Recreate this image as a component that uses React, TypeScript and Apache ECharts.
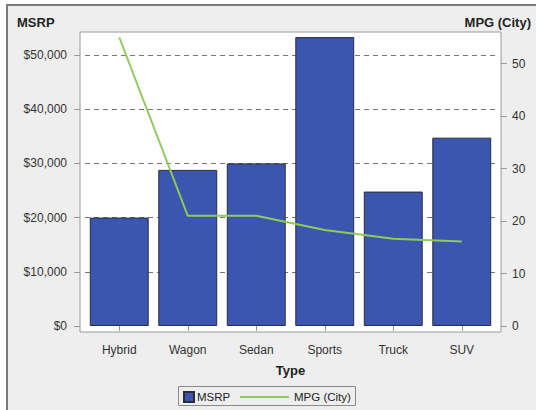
import React, { useEffect, useRef } from "react";
import * as echarts from "echarts";

const categories = ["Hybrid", "Wagon", "Sedan", "Sports", "Truck", "SUV"];
const msrpValues = [20000, 28800, 30000, 53300, 24800, 34750];
const mpgValues = [55, 21, 21, 18.3, 16.6, 16.1];
const msrpTicks = [0, 10000, 20000, 30000, 40000, 50000];
const mpgTicks = [0, 10, 20, 30, 40, 50];

const FONT = "'Liberation Sans', Arial, sans-serif";

export default function App() {
  const ref = useRef<HTMLDivElement>(null);
  useEffect(() => {
    if (!ref.current) return;
    const chart = echarts.init(ref.current, undefined, { renderer: "svg" });
    const fmtMoney = (v: number) => "$" + Math.round(v).toLocaleString("en-US");
    chart.setOption({
      animation: false,
      backgroundColor: "#ffffff",
      textStyle: { fontFamily: FONT },
      grid: { left: 85, right: 40, top: 32, bottom: 84, containLabel: false },
      graphic: [
        {
          type: "rect",
          z: -100,
          shape: { x: 7, y: 5, width: 620, height: 500 },
          style: { fill: "#eeeeee", stroke: "#7a7a7a", lineWidth: 2 },
        },
        {
          type: "rect",
          z: -90,
          shape: { x: 80, y: 32, width: 421, height: 300 },
          style: { fill: "#ffffff", stroke: "#9a9a9a", lineWidth: 1 },
        },
        {
          type: "rect",
          z: -90,
          shape: { x: 178.5, y: 386.5, width: 177, height: 19 },
          style: { fill: "#eeeeee", stroke: "#8a8a8a", lineWidth: 1 },
        },
        {
          type: "text",
          x: 17,
          y: 22,
          style: {
            text: "MSRP",
            font: "bold 13px " + FONT,
            fill: "#222222",
            textAlign: "left",
            textVerticalAlign: "middle",
          },
        },
        {
          type: "text",
          x: 531,
          y: 22,
          style: {
            text: "MPG (City)",
            font: "bold 13px " + FONT,
            fill: "#222222",
            textAlign: "right",
            textVerticalAlign: "middle",
          },
        },
      ],
      legend: [
        {
          data: [{ name: "MSRP", icon: "rect" }],
          left: 183,
          top: 391,
          padding: 0,
          itemWidth: 10,
          itemHeight: 10,
          itemGap: 0,
          textStyle: { fontSize: 11.5, color: "#222", fontFamily: FONT, padding: [0, 0, 0, -2] },
        },
        {
          data: [{ name: "MPG (City)", icon: "path://M0,0L49,0L49,2L0,2Z" }],
          left: 240,
          top: 391,
          padding: 0,
          itemWidth: 49,
          itemHeight: 10,
          textStyle: { fontSize: 11.5, color: "#222", fontFamily: FONT },
        },
      ],
      xAxis: {
        type: "category",
        data: categories,
        offset: 6,
        axisLine: { show: false },
        axisTick: { show: true, alignWithLabel: true, length: 5, lineStyle: { color: "#999" } },
        axisLabel: { fontSize: 12, color: "#333", margin: 12, fontFamily: FONT },
        name: "Type",
        nameLocation: "middle",
        nameGap: 32,
        nameTextStyle: { fontSize: 13, fontWeight: "bold", color: "#222", fontFamily: FONT },
      },
      yAxis: [
        {
          type: "value",
          min: 0,
          max: 54240,
          position: "left",
          offset: 5,
          axisLine: { show: false },
          axisTick: { show: true, length: 6, lineStyle: { color: "#999" }, customValues: msrpTicks },
          axisLabel: {
            fontSize: 12,
            color: "#333",
            margin: 13,
            fontFamily: FONT,
            customValues: msrpTicks,
            formatter: (v: number) => fmtMoney(v),
          },
          splitLine: { show: false },
        },
        {
          type: "value",
          min: 0,
          max: 56,
          position: "right",
          offset: 5,
          axisLine: { show: false },
          axisTick: { show: true, length: 6, lineStyle: { color: "#999" }, customValues: mpgTicks },
          axisLabel: {
            fontSize: 12,
            color: "#333",
            margin: 11,
            fontFamily: FONT,
            customValues: mpgTicks,
          },
          splitLine: { show: false },
        },
      ],
      series: [
        {
          name: "MSRP",
          type: "bar",
          data: msrpValues,
          yAxisIndex: 0,
          barCategoryGap: "14%",
          itemStyle: { color: "#3a56ae", borderColor: "#2b2b3b", borderWidth: 1 },
          markLine: {
            silent: true,
            z: 1,
            symbol: ["none", "none"],
            label: { show: false },
            lineStyle: { color: "#777", type: [5, 4], width: 1 },
            data: msrpTicks.filter((v) => v > 0).map((v) => ({ yAxis: v })),
          },
        },
        {
          name: "MPG (City)",
          type: "line",
          data: mpgValues,
          yAxisIndex: 1,
          symbol: "none",
          showSymbol: false,
          lineStyle: { color: "#8fcb5b", width: 2 },
          itemStyle: { color: "#8fcb5b" },
        },
      ],
    });
    return () => chart.dispose();
  }, []);
  return (
    <div
      ref={ref}
      style={{ position: "fixed", left: 0, top: 0, width: 536, height: 410 }}
    />
  );
}
